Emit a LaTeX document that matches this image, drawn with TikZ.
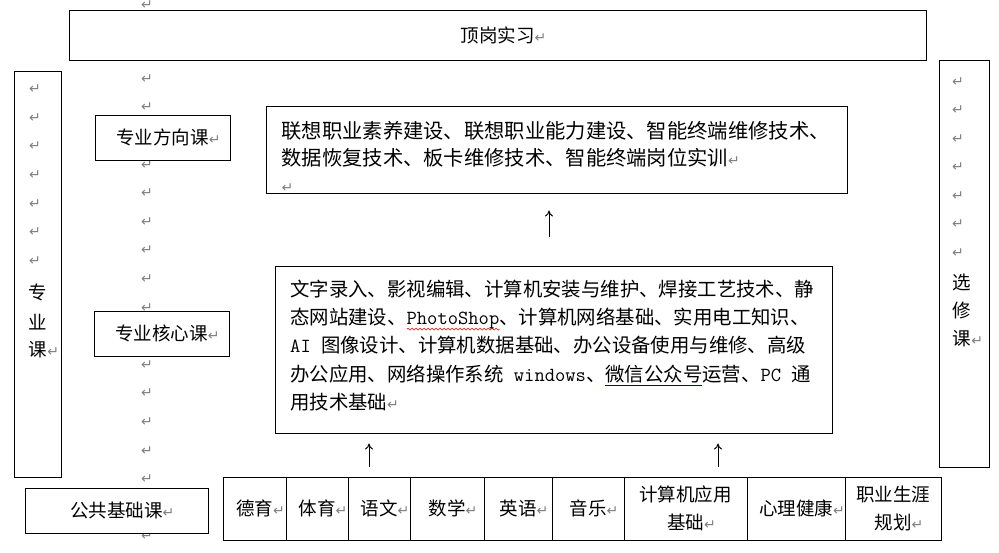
\documentclass[tikz,border=0pt]{standalone}
\usepackage{fontspec}
\usepackage{xcolor}
\usetikzlibrary{arrows.meta, decorations.pathmorphing}
\setmainfont{Noto Sans CJK SC}
\newfontfamily\markfont{DejaVu Sans}
\newcommand{\retmark}{\textcolor{gray}{\markfont\fontsize{14}{14}\selectfont ↵}}
\newcommand{\retlap}{\rlap{\retmark}}
\newcommand{\latintxt}[1]{{\ttfamily\fontsize{20}{20}\selectfont #1}}
\newsavebox{\ulbox}
\newcommand{\blueline}[1]{\sbox{\ulbox}{#1}\rlap{\textcolor{blue!70!black}{\rule[-4.5pt]{\wd\ulbox}{0.8pt}}}\usebox{\ulbox}}
\newcommand{\redwave}[1]{\sbox{\ulbox}{#1}\rlap{\tikz[baseline=0pt, x=1pt, y=1pt]
    \draw[red, line width=0.6pt, decorate, decoration={snake, amplitude=1pt, segment length=4pt}]
    (0pt,-4.5pt) -- (\the\wd\ulbox,-4.5pt);}\usebox{\ulbox}}

\begin{document}
\begin{tikzpicture}[
            x = 1pt, y = -1pt,
            > = {To[length=6pt, width=8pt]},
            line width = 1pt
        ]

        \tikzstyle{box}=[
            draw = black,
            fill = white,
            inner sep = 0pt
        ]
        \tikzstyle{lab}=[font=\fontsize{18.5}{28}\selectfont]
        \tikzstyle{cell}=[box, lab, align=center, minimum height=63pt]
        \tikzstyle{mk}=[inner sep=0pt]

        \useasboundingbox (0,0) rectangle (999,552);

        \node[box, minimum width=47pt, minimum height=406pt] (zyk) at (37.5,274) {};
        \node[box, minimum width=50pt, minimum height=407pt] (xxk) at (964,263.5) {};

        \node[mk] (rt) at (147,5) {\retmark};
        \foreach \i in {0,1,3,4,5,6,7,8,10,11,12,13,14,16}
            \node[mk] (rt\i) at (147, 79+28.6*\i) {\retmark};
        \foreach \i in {0,...,6}
            \node[mk] (lm\i) at (35, 89+28.7*\i) {\retmark};
        \foreach \i in {0,...,6}
            \node[mk] (rm\i) at (958, 82+28.5*\i) {\retmark};

        \node[lab] (zy1) at (38,292) {专};
        \node[lab] (zy2) at (38,322) {业};
        \node[lab] (zy3) at (38,350) {课\retlap};
        \node[lab] (xx1) at (962,283) {选};
        \node[lab] (xx2) at (962,310) {修};
        \node[lab] (xx3) at (962,339) {课\retlap};

        \node[box, lab, minimum width=857pt, minimum height=50pt] (dg) at (497.5,35) {顶岗实习\retlap};
        \node[box, lab, minimum width=135pt, minimum height=45pt] (fx) at (162.5,137.5) {专业方向课\retlap};
        \node[box, lab, minimum width=135pt, minimum height=45pt] (hx) at (161.5,333.5) {专业核心课\retlap};
        \node[box, lab, minimum width=183pt, minimum height=45pt] (gg) at (116.5,510.5) {公共基础课\retlap};

        \node[box, minimum width=581pt, minimum height=87pt] (fxk) at (556.5,149.5) {};
        \node[mk, anchor=base west, align=left, font=\fontsize{20.3}{27}\selectfont] (fxt) at (281,192.6)
            {联想职业素养建设、联想职业能力建设、智能终端维修技术、\\
             数据恢复技术、板卡维修技术、智能终端岗位实训\retlap\\
             \retmark};

        \node[box, minimum width=557pt, minimum height=167pt] (hxk) at (553.5,349.5) {};
        \node[mk, anchor=base west, align=left, font=\fontsize{19.4}{28.25}\selectfont] (hxt) at (290,409.4)
            {文字录入、影视编辑、计算机安装与维护、焊接工艺技术、静\\
             态网站建设、\redwave{\latintxt{PhotoShop}}、计算机网络基础、实用电工知识、\\
             \latintxt{AI }图像设计、计算机数据基础、办公设备使用与维修、高级\\
             办公应用、网络操作系统\latintxt{ windows}、\blueline{微信公众号}运营、\latintxt{PC }通\\
             用技术基础\retlap};

        \foreach \l/\r/\t/\n in {223/286/德育/dy, 286/348/体育/ty, 348/410/语文/yw,
                410/484/数学/sx, 484/552/英语/yy, 552/624/音乐/yl,
                624/747/{计算机应用\\基础}/jsj, 747/845/心理健康/xl, 845/941/{职业生涯\\规划}/zy}
            \node[cell, minimum width=\r-\l] (\n) at ({(\l+\r)/2},508.5) {\t\retlap};

        \coordinate (a1) at (549,0);
        \coordinate (a2) at (369,0);
        \coordinate (a3) at (718,0);

        \path[->] (hxk.north -| a1) edge[shorten <=29pt, shorten >=17pt] (fxk.south -| a1);
        \path[->] (yw.north -| a2) edge[shorten <=10pt, shorten >=10pt] (hxk.south -| a2);
        \path[->] (jsj.north -| a3) edge[shorten <=10pt, shorten >=10pt] (hxk.south -| a3);
    \end{tikzpicture}
\end{document}
